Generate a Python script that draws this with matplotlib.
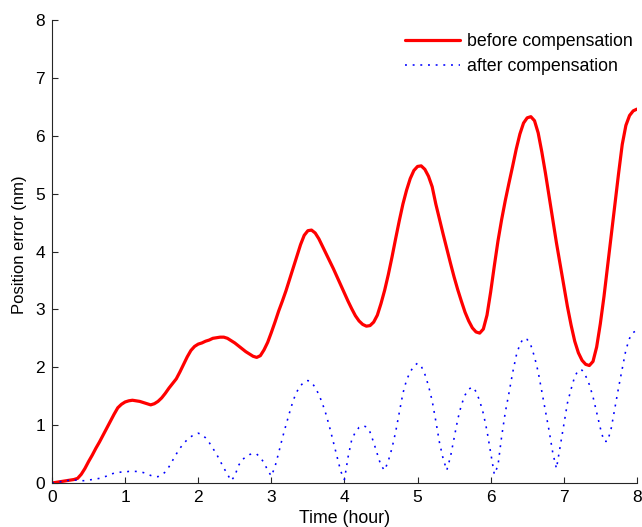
import matplotlib
matplotlib.use("Agg")
import matplotlib.pyplot as plt

plt.rcParams['font.family'] = ['Liberation Sans', 'DejaVu Sans']

# Time samples (hours), every 0.05 h
time_h = [round(0.05 * i, 2) for i in range(161)]

# Position error before compensation (nm)
before = [
    0.00, 0.01, 0.02, 0.03, 0.04, 0.05, 0.06, 0.08, 0.15, 0.25,
    0.37, 0.48, 0.60, 0.71, 0.83, 0.95, 1.07, 1.19, 1.30, 1.36,
    1.40, 1.42, 1.43, 1.42, 1.41, 1.39, 1.37, 1.35, 1.37, 1.41,
    1.47, 1.55, 1.64, 1.72, 1.80, 1.92, 2.05, 2.18, 2.29, 2.36,
    2.40, 2.42, 2.45, 2.47, 2.50, 2.51, 2.52, 2.52, 2.50, 2.46,
    2.42, 2.37, 2.32, 2.27, 2.23, 2.19, 2.17, 2.20, 2.30, 2.43,
    2.60, 2.78, 2.97, 3.14, 3.32, 3.52, 3.72, 3.92, 4.12, 4.28,
    4.36, 4.37, 4.32, 4.22, 4.09, 3.96, 3.83, 3.70, 3.56, 3.42,
    3.28, 3.14, 3.01, 2.89, 2.80, 2.74, 2.71, 2.72, 2.78, 2.90,
    3.10, 3.33, 3.60, 3.90, 4.22, 4.53, 4.82, 5.06, 5.26, 5.40,
    5.47, 5.48, 5.42, 5.30, 5.12, 4.82, 4.56, 4.30, 4.05, 3.80,
    3.56, 3.34, 3.14, 2.95, 2.80, 2.68, 2.61, 2.59, 2.66, 2.90,
    3.30, 3.75, 4.18, 4.55, 4.88, 5.18, 5.47, 5.77, 6.03, 6.22,
    6.31, 6.33, 6.26, 6.05, 5.72, 5.35, 4.95, 4.55, 4.15, 3.78,
    3.42, 3.05, 2.73, 2.45, 2.25, 2.12, 2.05, 2.03, 2.10, 2.35,
    2.75, 3.22, 3.75, 4.28, 4.82, 5.35, 5.85, 6.18, 6.35, 6.43,
    6.46,
]

# Position error after compensation (nm)
after = [
    0.00, 0.01, 0.02, 0.03, 0.04, 0.05, 0.05, 0.05, 0.04, 0.04,
    0.05, 0.06, 0.07, 0.08, 0.10, 0.12, 0.15, 0.17, 0.18, 0.19,
    0.19, 0.20, 0.20, 0.20, 0.19, 0.18, 0.16, 0.13, 0.11, 0.11,
    0.14, 0.19, 0.28, 0.39, 0.50, 0.60, 0.68, 0.75, 0.80, 0.84,
    0.86, 0.84, 0.78, 0.70, 0.60, 0.50, 0.38, 0.26, 0.15, 0.04,
    0.12, 0.30, 0.40, 0.45, 0.49, 0.51, 0.50, 0.44, 0.35, 0.22,
    0.12, 0.28, 0.52, 0.77, 1.00, 1.22, 1.43, 1.58, 1.68, 1.75,
    1.77, 1.74, 1.65, 1.53, 1.37, 1.18, 0.95, 0.70, 0.45, 0.20,
    0.06, 0.45, 0.75, 0.88, 0.96, 0.99, 0.97, 0.88, 0.70, 0.50,
    0.30, 0.22, 0.38, 0.60, 0.88, 1.22, 1.55, 1.78, 1.92, 2.02,
    2.07, 2.02, 1.88, 1.68, 1.42, 1.07, 0.70, 0.42, 0.22, 0.45,
    0.78, 1.10, 1.35, 1.52, 1.62, 1.66, 1.58, 1.42, 1.20, 0.90,
    0.52, 0.15, 0.30, 0.80, 1.22, 1.55, 1.90, 2.20, 2.40, 2.50,
    2.48, 2.38, 2.18, 1.92, 1.58, 1.25, 0.90, 0.52, 0.25, 0.62,
    1.00, 1.38, 1.62, 1.84, 1.95, 1.95, 1.85, 1.70, 1.49, 1.22,
    0.95, 0.72, 0.72, 0.95, 1.30, 1.65, 1.98, 2.30, 2.50, 2.60,
    2.64,
]

fig = plt.figure(figsize=(6.42, 5.27), dpi=100)
ax = fig.add_axes([0.081, 0.0835, 0.911, 0.8785])

ax.plot(time_h, before, color='#ff0000', lw=2.3, solid_joinstyle='round',
        solid_capstyle='round', label='before compensation')
ax.plot(time_h, after, color='#0000ff', lw=1.15, linestyle=(0, (1.2, 3.6)),
        label='after compensation')

ax.set_xlim(0, 8)
ax.set_ylim(0, 8)
ax.set_xticks(range(9))
ax.set_yticks(range(9))

for side in ('top', 'right'):
    ax.spines[side].set_visible(False)
for side in ('left', 'bottom'):
    ax.spines[side].set_linewidth(0.8)
    ax.spines[side].set_color('#262626')

ax.tick_params(direction='in', length=4, width=0.8, labelsize=12.5,
               colors='#262626', labelcolor='black', pad=5)

ax.set_xlabel('Time (hour)', fontsize=12.8, labelpad=3.5)
ax.set_ylabel('Position error (nm)', fontsize=12, labelpad=6)
ax.yaxis.set_label_coords(-0.043, 0.515)

ax.legend(loc='upper right', bbox_to_anchor=(1.0, 0.982), frameon=False,
          fontsize=12.8, handlelength=3.05, handletextpad=0.4,
          labelspacing=0.45, borderaxespad=0.0, borderpad=0.25)

fig.savefig('out.png', dpi=100)
